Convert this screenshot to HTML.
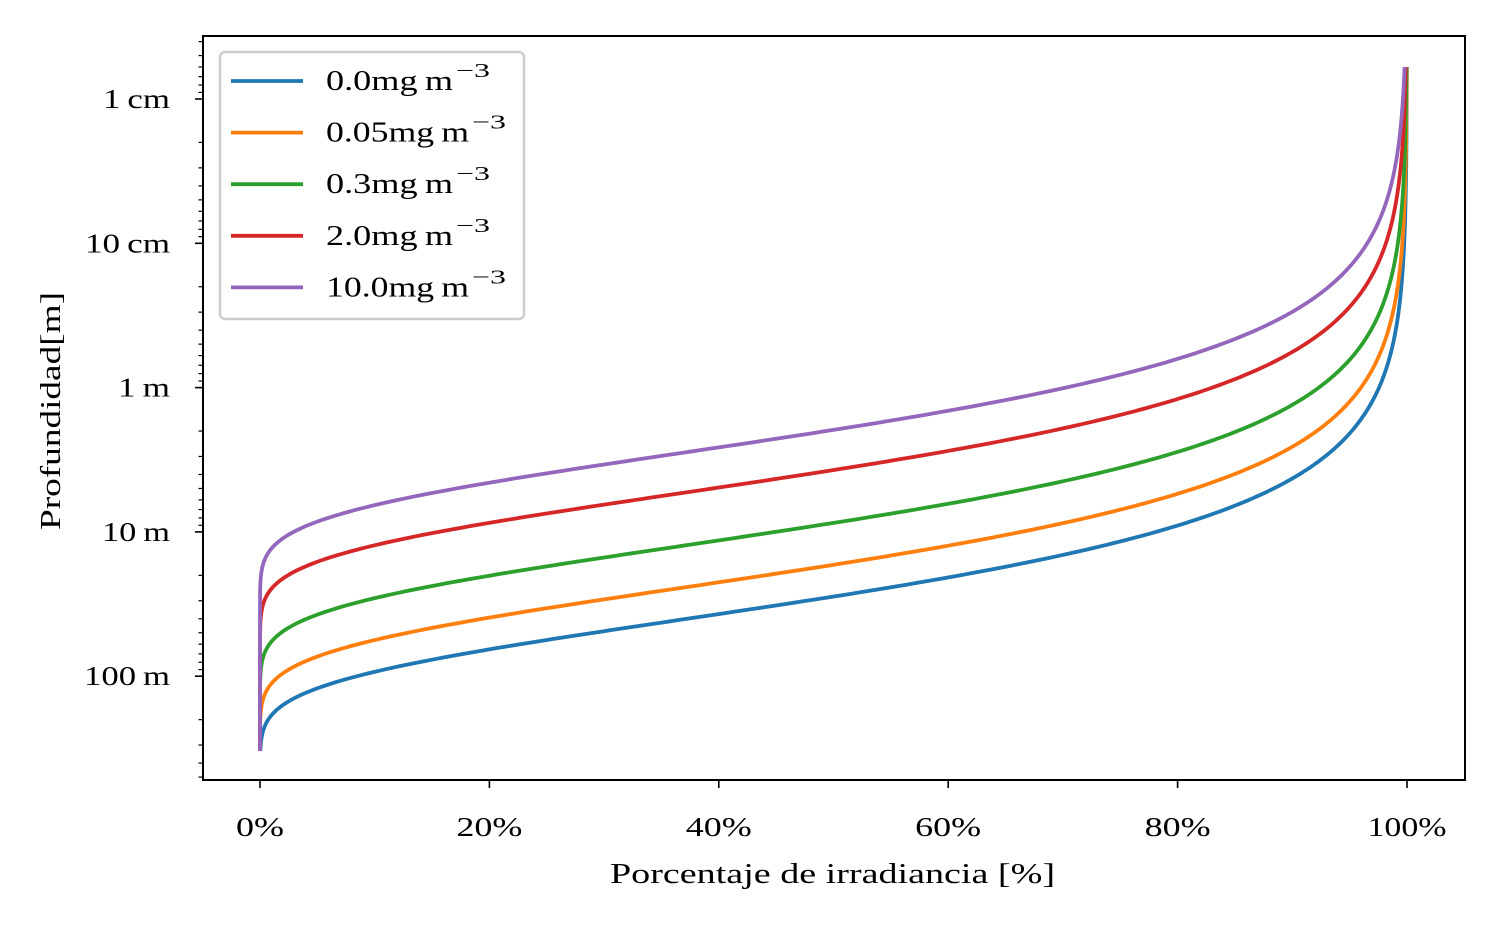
<!DOCTYPE html>
<html><head><meta charset="utf-8"><style>
body{margin:0;background:#fff;}
svg{display:block;font-family:"Liberation Serif",serif;}
</style></head><body>
<svg id="chart" width="1500" height="927">
<rect x="0" y="0" width="1500" height="927" fill="#fff"/>
<g id="lines"></g>
<g id="axes"></g>
<g id="legend"></g>
</svg>
<script>
// Series: chlorophyll concentration labels and attenuation coefficients Kd (1/m)
const seriesLabels = ["0.0", "0.05", "0.3", "2.0", "10.0"];
const seriesKd = [0.0247, 0.041, 0.08, 0.186, 0.353];
const seriesColors = ["#1f77b4", "#ff7f0e", "#2ca02c", "#d62728", "#9467bd"];
const depthMin = 0.006, depthMax = 330;
const xTicks = [0, 20, 40, 60, 80, 100];
const yTickValues = [0.01, 0.1, 1, 10, 100];
const yTickLabels = ["1\u2009cm", "10\u2009cm", "1\u2009m", "10\u2009m", "100\u2009m"];

const NS = "http://www.w3.org/2000/svg";
const PL = 203, PR = 1465, PT = 36, PB = 780;
function xs(p){ return 260 + p * (1407 - 260) / 100; }
function ys(d){ return 99 + (Math.log10(d) - Math.log10(0.01)) * 144.3; }
function mk(tag, attrs, parent){ const e = document.createElementNS(NS, tag); for (const k in attrs) e.setAttribute(k, attrs[k]); parent.appendChild(e); return e; }

const lines = document.getElementById('lines');
const axes = document.getElementById('axes');
const legend = document.getElementById('legend');

seriesKd.forEach((K, i) => {
  let pts = [];
  const N = 600;
  for (let j = 0; j <= N; j++) {
    const d = Math.pow(10, Math.log10(depthMin) + j / N * (Math.log10(depthMax) - Math.log10(depthMin)));
    const p = 100 * Math.exp(-K * d);
    pts.push(xs(p).toFixed(2) + "," + ys(d).toFixed(2));
  }
  const pl = mk('polyline', {points: pts.join(' '), fill: 'none', stroke: seriesColors[i], 'stroke-width': 3.8}, lines);
  
  
});

const fr = mk('rect', {x: PL, y: PT, width: PR - PL, height: PB - PT, fill: 'none', stroke: '#000', 'stroke-width': 2}, axes);



function tw(s){ return s.length === 2 ? 48 : (s.length === 3 ? 66 : 79); }
xTicks.forEach(v => {
  const x = xs(v);
  const t = mk('line', {x1: x, x2: x, y1: PB, y2: PB + 8, stroke: '#000', 'stroke-width': 1.6}, axes);
  
  
  const s = v + '%';
  const tx = mk('text', {x: x, y: 836, 'font-size': 27, 'text-anchor': 'middle', textLength: tw(s), lengthAdjust: 'spacingAndGlyphs'}, axes);
  tx.textContent = s;
  
  
});
const yLabelWidths = [67, 85, 52, 68, 86];
yTickValues.forEach((v, i) => {
  const y = ys(v);
  const t = mk('line', {x1: PL - 8, x2: PL, y1: y, y2: y, stroke: '#000', 'stroke-width': 1.6}, axes);
  
  
  const tx = mk('text', {x: 170 - yLabelWidths[i], y: y + 9, 'font-size': 27, textLength: yLabelWidths[i], lengthAdjust: 'spacingAndGlyphs'}, axes);
  tx.textContent = yTickLabels[i];
  
  
});
for (let e = -3; e <= 2; e++) {
  for (let m = 2; m <= 9; m++) {
    const v = m * Math.pow(10, e);
    const y = ys(v);
    if (y < PT || y > PB) continue;
    const t = mk('line', {x1: PL - 4.5, x2: PL, y1: y, y2: y, stroke: '#000', 'stroke-width': 1.2}, axes);
    
    
  }
}
const xl = mk('text', {x: 610, y: 883, 'font-size': 28, textLength: 445, lengthAdjust: 'spacingAndGlyphs'}, axes);
xl.textContent = 'Porcentaje de irradiancia [%]';


const yl = mk('text', {x: 0, y: 0, 'font-size': 28, 'text-anchor': 'middle', textLength: 238, lengthAdjust: 'spacingAndGlyphs', transform: 'translate(60,411) rotate(-90)'}, axes);
yl.textContent = 'Profundidad[m]';



const lb = mk('rect', {x: 220, y: 52, width: 304, height: 267, rx: 5, fill: '#fff', 'fill-opacity': 0.8, stroke: '#ccc', 'stroke-width': 2.5}, legend);


seriesLabels.forEach((s, i) => {
  const y = 81 + i * 51.6;
  const g = mk('g', {}, legend);
  
  
  mk('line', {x1: 231, x2: 303, y1: y, y2: y, stroke: seriesColors[i], 'stroke-width': 3.8}, g);
  const w = 127 + (s.length - 3) * 16;
  const tx = mk('text', {x: 326, y: y + 9, 'font-size': 28, textLength: w, lengthAdjust: 'spacingAndGlyphs'}, g);
  tx.textContent = s + 'mg\u2009m';
  const sup = mk('text', {x: 326 + w + 3, y: y - 4, 'font-size': 20, textLength: 34, lengthAdjust: 'spacingAndGlyphs'}, g);
  sup.textContent = '\u22123';
});
</script>
</body></html>
